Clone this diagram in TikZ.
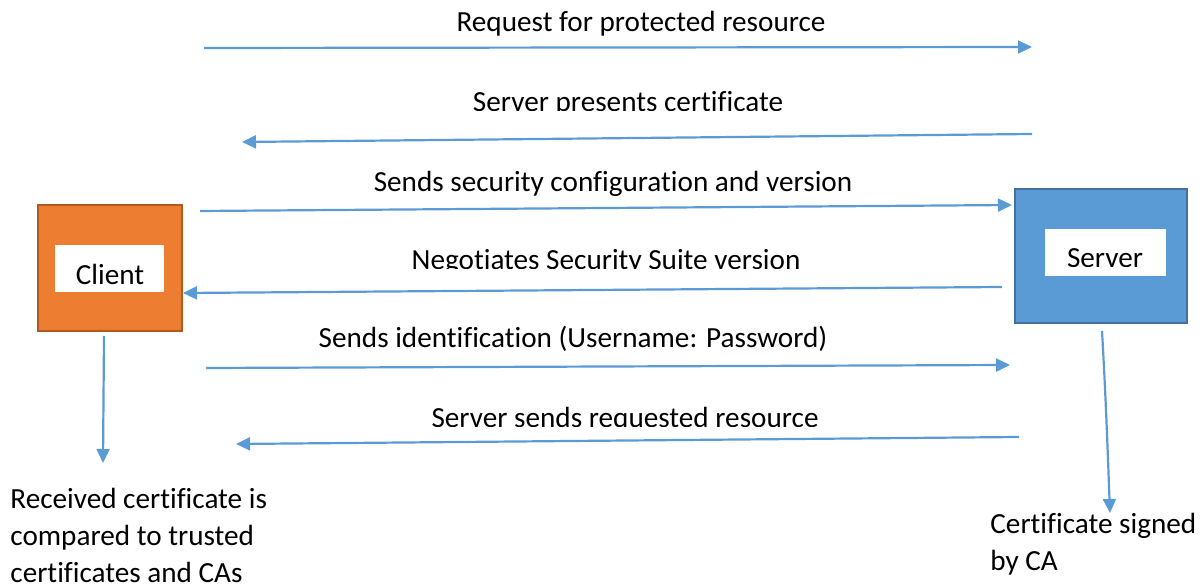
\documentclass[tikz,border=0pt]{standalone}
\usepackage{fontspec}
\setmainfont[Ligatures=NoCommon]{Carlito}
\usetikzlibrary{arrows.meta}
\definecolor{flow}{HTML}{5B9BD5}
\definecolor{clientfill}{HTML}{ED7D31}
\definecolor{clientedge}{HTML}{AE5A21}
\definecolor{serverfill}{HTML}{5B9BD5}
\definecolor{serveredge}{HTML}{41719C}
\tikzset{
  msg/.style={draw=flow, line width=1.1pt, -{Triangle[length=7pt,width=6.5pt]}},
  lbl/.style={anchor=base, inner sep=0pt, font=\fontsize{14.6}{18.5}\selectfont},
  note/.style={anchor=base west, inner sep=0pt, align=left, font=\fontsize{14.6}{18.5}\selectfont},
  party/.style={line width=1pt},
  tag/.style={fill=white, draw=none}
}
\begin{document}
\begin{tikzpicture}[x=0.5pt, y=-0.5pt]
\useasboundingbox (0,0) rectangle (1200,587);

% the two parties
\filldraw[party, fill=clientfill, draw=clientedge] (38,205) rectangle (182,331);
\fill[tag] (55,245) rectangle (164,292);
\node[lbl] (client) at (110,285) {Client};

\filldraw[party, fill=serverfill, draw=serveredge] (1015,189) rectangle (1187,323);
\fill[tag] (1045,229) rectangle (1166,276);
\begin{scope}
  \clip (1045,229) rectangle (1166,267);
  \node[lbl] (server) at (1105,268) {Server};
\end{scope}

% message end points
\coordinate (a1) at (204,48);   \coordinate (b1) at (1032,47);
\coordinate (a2) at (1032,134); \coordinate (b2) at (242,142);
\coordinate (a3) at (200,211);  \coordinate (b3) at (1012,205);
\coordinate (a4) at (1002,287); \coordinate (b4) at (183,293);
\coordinate (a5) at (206,368);  \coordinate (b5) at (1010,365);
\coordinate (a6) at (1019,437); \coordinate (b6) at (236,444);

\draw[msg] (a1) -- (b1);
\draw[msg] (a2) -- (b2);
\draw[msg] (a3) -- (b3);
\draw[msg] (a4) -- (b4);
\draw[msg] (a5) -- (b5);
\draw[msg] (a6) -- (b6);

% message labels
\node[lbl] (m1) at (641,32) {Request for protected resource};
\begin{scope}
  \clip (300,80) rectangle (950,111);
  \node[lbl] (m2) at (628,112) {Server presents certificate};
\end{scope}
\node[lbl] (m3) at (613,192) {Sends security configuration and version};
\begin{scope}
  \clip (300,235) rectangle (950,269);
  \node[lbl] (m4) at (606,270) {Negotiates Security Suite version};
\end{scope}
\node[lbl] (m5) at (573,348) {Sends identification (Username: Password)};
\begin{scope}
  \clip (300,395) rectangle (950,427);
  \node[lbl] (m6) at (625,428) {Server sends requested resource};
\end{scope}

% notes below each party (anchored on their last baseline)
\node[note] (cnote) at (10,582) {Received certificate is\\compared to trusted\\certificates and CAs};
\node[note] (snote) at (990,571) {Certificate signed\\by CA};

\coordinate (c0) at (104,336); \coordinate (c1) at (103,463);
\coordinate (s0) at (1102,331); \coordinate (s1) at (1110,513);
\draw[msg] (c0) -- (c1);
\draw[msg] (s0) .. controls (1106,400) and (1108,460) .. (s1);
\end{tikzpicture}
\end{document}
